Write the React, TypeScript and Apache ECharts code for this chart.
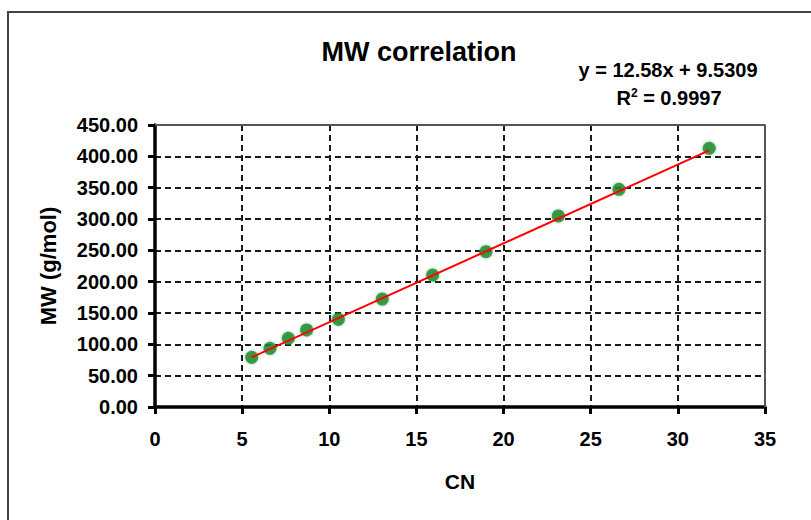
import React, { useEffect, useRef } from "react";
import * as echarts from "echarts";

// Carbon number vs molecular weight samples
const cnValues = [5.55, 6.6, 7.65, 8.7, 10.52, 13.04, 15.93, 18.99, 23.14, 26.62, 31.8];
const mwValues = [79.3, 93.6, 109.6, 122.9, 139.9, 172.3, 210.6, 247.8, 304.8, 347.3, 412.8];

// Linear fit reported on the chart
const slope = 12.58;
const intercept = 9.5309;
const rSquared = "0.9997";

const FONT = "'Liberation Sans', Arial, sans-serif";

export default function App() {
  const ref = useRef<HTMLDivElement>(null);

  useEffect(() => {
    if (!ref.current) return;
    const chart = echarts.init(ref.current, null, { renderer: "svg" });

    const points = cnValues.map((x, i) => [x, mwValues[i]]);
    const xMin = Math.min(...cnValues);
    const xMax = Math.max(...cnValues);
    const fitLine = [
      [xMin, slope * xMin + intercept],
      [xMax, slope * xMax + intercept],
    ];

    const gridLine = { show: true, lineStyle: { color: "#1a1a1a", width: 2, type: [6, 4] } };

    chart.setOption({
      animation: false,
      backgroundColor: "#ffffff",
      textStyle: { fontFamily: FONT },
      title: {
        text: "MW correlation",
        left: 414,
        top: 33,
        textAlign: "center",
        textStyle: { fontFamily: FONT, fontSize: 27, fontWeight: "bold", color: "#000" },
      },
      graphic: [
        {
          type: "rect",
          shape: { x: 8, y: 12, width: 900, height: 600 },
          style: { fill: "none", stroke: "#444", lineWidth: 2 },
          z: -1,
        },
        {
          type: "text",
          x: 668,
          y: 70,
          style: {
            text: `y = ${slope}x + ${intercept}`,
            font: `bold 20px ${FONT}`,
            fill: "#000",
            align: "center",
            verticalAlign: "middle",
          },
        },
        {
          type: "text",
          x: 669,
          y: 98,
          style: {
            text: `R{sup|2} = ${rSquared}`,
            font: `bold 20px ${FONT}`,
            fill: "#000",
            align: "center",
            verticalAlign: "middle",
            rich: {
              sup: { fontSize: 12, fontWeight: "bold", fontFamily: FONT, verticalAlign: "top", padding: [0, 0, 10, 0] },
            },
          },
        },
      ],
      grid: { left: 155, right: 46, top: 125, bottom: 113 },
      xAxis: {
        type: "value",
        min: 0,
        max: 35,
        interval: 5,
        name: "CN",
        nameLocation: "middle",
        nameGap: 64,
        nameTextStyle: { fontFamily: FONT, fontSize: 21, fontWeight: "bold", color: "#000" },
        axisLine: { show: true, onZero: false, lineStyle: { color: "#000", width: 3.5 } },
        axisTick: { show: true, length: 7, lineStyle: { color: "#000", width: 3 } },
        axisLabel: {
          fontFamily: FONT,
          fontSize: 20,
          fontWeight: "bold",
          color: "#000",
          margin: 22,
        },
        splitLine: gridLine,
      },
      yAxis: {
        type: "value",
        min: 0,
        max: 450,
        interval: 50,
        name: "MW (g/mol)",
        nameLocation: "middle",
        nameGap: 96,
        nameTextStyle: { fontFamily: FONT, fontSize: 22, fontWeight: "bold", color: "#000" },
        axisLine: { show: true, onZero: false, lineStyle: { color: "#000", width: 3.5 } },
        axisTick: { show: true, length: 7, lineStyle: { color: "#000", width: 3 } },
        axisLabel: {
          fontFamily: FONT,
          fontSize: 20,
          fontWeight: "bold",
          color: "#000",
          margin: 17,
          formatter: (v: number) => v.toFixed(2),
        },
        splitLine: gridLine,
      },
      series: [
        {
          // plot-area frame on the top and right
          type: "line",
          data: [
            [0, 450],
            [35, 450],
            [35, 0],
          ],
          symbol: "none",
          lineStyle: { color: "#555", width: 2 },
          silent: true,
          z: 1,
        },
        {
          type: "line",
          data: fitLine,
          symbol: "none",
          lineStyle: { color: "#ff0000", width: 2 },
          z: 3,
        },
        {
          type: "scatter",
          data: points,
          symbol: "circle",
          symbolSize: 13,
          itemStyle: { color: "#1f8a2e", shadowColor: "rgba(31,138,46,0.6)", shadowBlur: 3 },
          z: 2,
        },
      ],
    });

    return () => chart.dispose();
  }, []);

  return (
    <div
      ref={ref}
      style={{ position: "fixed", left: 0, top: 0, width: 811, height: 520 }}
    />
  );
}
